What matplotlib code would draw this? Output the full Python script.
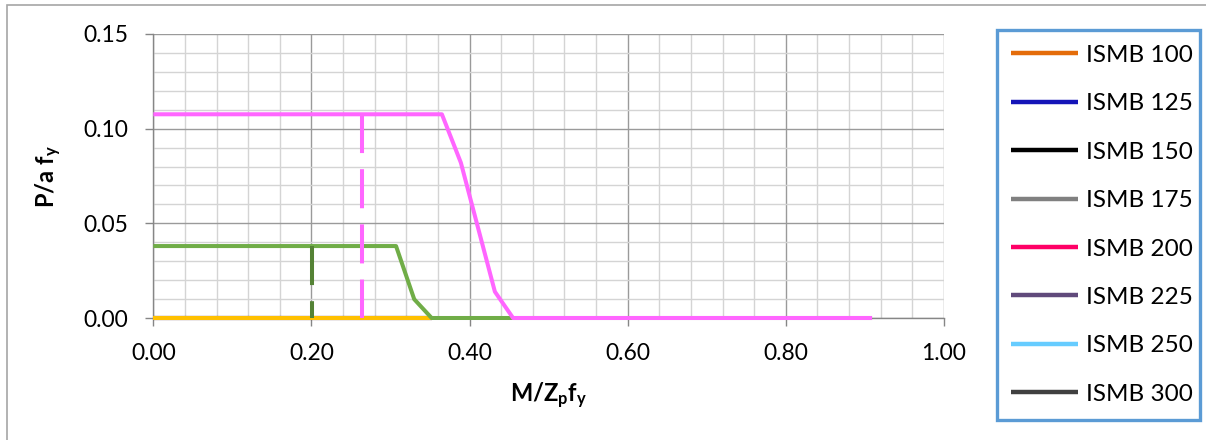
import matplotlib
matplotlib.use("Agg")
import matplotlib.pyplot as plt
from matplotlib.patches import Rectangle
from matplotlib.ticker import MultipleLocator, FormatStrFormatter

plt.rcParams['font.family'] = ['Lato', 'DejaVu Sans']
plt.rcParams['mathtext.fontset'] = 'custom'
plt.rcParams['mathtext.rm'] = 'Lato'
plt.rcParams['mathtext.bf'] = 'Lato:bold'
plt.rcParams['mathtext.it'] = 'Lato:italic'

# legend series (all sit on the zero line, hidden under the others)
legend_names = ["ISMB 100", "ISMB 125", "ISMB 150", "ISMB 175",
                "ISMB 200", "ISMB 225", "ISMB 250", "ISMB 300"]
legend_colors = ["#E46C0A", "#1414B8", "#000000", "#808080",
                 "#FF0066", "#604A7B", "#66CCFF", "#404040"]
zero_x = [0.0, 0.352]
zero_y = [0.0, 0.0]

# visible interaction curves
pink_x = [0.0, 0.365, 0.389, 0.432, 0.455, 0.909]
pink_y = [0.1076, 0.1076, 0.0820, 0.0139, 0.0, 0.0]
green_x = [0.0, 0.307, 0.330, 0.352, 0.909]
green_y = [0.0380, 0.0380, 0.0099, 0.0, 0.0]
yellow_x = [0.0, 0.352]
yellow_y = [0.0, 0.0]

# vertical dashed markers
pink_mark_x = [0.264, 0.264]
pink_mark_y = [0.1076, 0.0]
green_mark_x = [0.201, 0.201]
green_mark_y = [0.0380, 0.0]

fig = plt.figure(figsize=(12.06, 4.40), dpi=100)
ax = fig.add_axes([153.3 / 1206, 1 - 318 / 440, (944 - 153.3) / 1206, (318 - 34) / 440])

# outer chart border (only left/top visible)
fig.patches.append(Rectangle((7 / 1206, -0.5), 2.0, 1.5 - 5 / 440,
                             transform=fig.transFigure, fill=False,
                             edgecolor="#A6A6A6", lw=1.2))

lw = 2.9
for name, col in zip(legend_names, legend_colors):
    ax.plot(zero_x, zero_y, color=col, lw=lw, label=name, zorder=2,
            solid_capstyle='butt', clip_on=False)

ax.plot(yellow_x, yellow_y, color="#FFC000", lw=lw, zorder=3,
        solid_capstyle='butt', clip_on=False)
ax.plot(green_x, green_y, color="#70AD47", lw=lw, zorder=4,
        solid_capstyle='butt', clip_on=False)
ax.plot(pink_x, pink_y, color="#FF66FF", lw=lw, zorder=5,
        solid_capstyle='butt', clip_on=False)
ax.plot(green_mark_x, green_mark_y, color="#548235", lw=lw, zorder=6,
        dashes=(9.7, 4.0), dash_capstyle='butt', clip_on=False)
ax.plot(pink_mark_x, pink_mark_y, color="#FF66FF", lw=lw, zorder=7,
        dashes=(9.7, 4.0), dash_capstyle='butt', clip_on=False)

ax.set_xlim(0, 1.0)
ax.set_ylim(0, 0.15)
ax.xaxis.set_major_locator(MultipleLocator(0.2))
ax.xaxis.set_minor_locator(MultipleLocator(0.04))
ax.yaxis.set_major_locator(MultipleLocator(0.05))
ax.yaxis.set_minor_locator(MultipleLocator(0.01))
ax.xaxis.set_major_formatter(FormatStrFormatter("%.2f"))
ax.yaxis.set_major_formatter(FormatStrFormatter("%.2f"))

ax.grid(which='major', color="#9A9A9A", lw=1.0, zorder=0)
ax.grid(which='minor', color="#D4D4D4", lw=1.0, zorder=0)
ax.set_axisbelow(True)

for s in ["top", "right"]:
    ax.spines[s].set_visible(False)
for s in ["left", "bottom"]:
    ax.spines[s].set_color("#868686")
    ax.spines[s].set_linewidth(1.0)

ax.tick_params(which='major', length=6, width=1, color="#868686",
               labelsize=16.5, pad=12)
ax.tick_params(which='minor', length=0)

ax.set_xlabel(r"$\mathbf{M/Z_pf_y}$", fontsize=17, labelpad=12)
ax.set_ylabel(r"$\mathbf{P/a\ f_y}$", fontsize=17, labelpad=14)

leg = fig.legend(loc='upper left',
                 bbox_to_anchor=(996.7 / 1206, 1 - 30 / 440, (1200 - 996.7) / 1206, 0),
                 mode='expand', borderaxespad=0, fontsize=17.5,
                 handlelength=2.75, handletextpad=0.33, labelspacing=1.13,
                 borderpad=0.6, fancybox=False, framealpha=1)
leg.get_frame().set_edgecolor("#5B9BD5")
leg.get_frame().set_linewidth(2.4)
for h in leg.get_lines():
    h.set_linewidth(3.2)

fig.savefig("out.png", dpi=100)
